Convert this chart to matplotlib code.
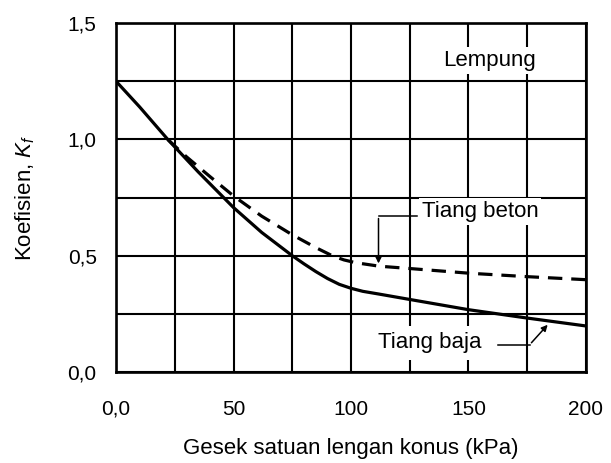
import matplotlib.pyplot as plt
import numpy as np

plt.rcParams['font.family'] = ['Liberation Sans', 'DejaVu Sans']
plt.rcParams['mathtext.fontset'] = 'custom'
plt.rcParams['mathtext.rm'] = 'Liberation Sans'
plt.rcParams['mathtext.it'] = 'Liberation Sans:italic'

# data
x_baja = [0, 10, 22, 35, 50, 62, 75, 80, 85, 90, 95, 100, 105, 112, 125, 150, 175, 200]
y_baja = [1.25, 1.14, 1.0, 0.86, 0.707, 0.60, 0.50, 0.465, 0.432, 0.402, 0.377, 0.36, 0.347, 0.335, 0.312, 0.268, 0.232, 0.198]

x_beton = [22, 30, 40, 50, 62, 75, 85, 92, 97, 102, 112, 125, 150, 175, 200]
y_beton = [1.0, 0.925, 0.84, 0.757, 0.67, 0.59, 0.535, 0.50, 0.482, 0.47, 0.455, 0.445, 0.425, 0.41, 0.397]

xticks = [0, 50, 100, 150, 200]
xticklabels = ['0,0', '50', '100', '150', '200']
yticks = [0, 0.5, 1.0, 1.5]
yticklabels = ['0,0', '0,5', '1,0', '1,5']

fig = plt.figure(figsize=(6.11, 4.63), dpi=100)
ax = fig.add_axes([0.19, 0.1965, 0.769, 0.7535])

ax.set_xlim(0, 200)
ax.set_ylim(0, 1.5)
ax.set_xticks(xticks)
ax.set_xticklabels(xticklabels)
ax.set_xticks(np.arange(0, 201, 25), minor=True)
ax.set_yticks(yticks)
ax.set_yticklabels(yticklabels)
ax.set_yticks(np.arange(0, 1.51, 0.25), minor=True)
ax.tick_params(which='both', length=0, labelsize=15)
ax.tick_params(axis='x', pad=20)
ax.tick_params(axis='y', pad=14)
ax.grid(which='both', color='black', linewidth=1.5)
ax.set_axisbelow(True)
for s in ax.spines.values():
    s.set_linewidth(1.9)

ax.plot(x_baja, y_baja, color='black', linewidth=2.3, solid_capstyle='butt')
ax.plot(x_beton, y_beton, color='black', linewidth=2.3, linestyle=(0, (4.5, 2.8)))

ax.text(159, 1.34, 'Lempung', fontsize=16, ha='center', va='center',
        bbox=dict(facecolor='white', edgecolor='none', pad=2))

ax.text(155, 0.69, 'Tiang beton', fontsize=16, ha='center', va='center',
        bbox=dict(facecolor='white', edgecolor='none', pad=2))
ax.plot([128, 111.7], [0.672, 0.672], color='black', linewidth=1.1)
ax.annotate('', xy=(111.7, 0.455), xytext=(111.7, 0.672),
            arrowprops=dict(arrowstyle='-|>', color='black', lw=1.1, mutation_scale=9))

ax.text(133.5, 0.125, 'Tiang baja', fontsize=16, ha='center', va='center',
        bbox=dict(facecolor='white', edgecolor='none', pad=5))
ax.plot([162.6, 176], [0.117, 0.117], color='black', linewidth=1.1)
ax.annotate('', xy=(184.5, 0.212), xytext=(176, 0.117),
            arrowprops=dict(arrowstyle='-|>', color='black', lw=1.1, mutation_scale=9))

ax.set_xlabel('Gesek satuan lengan konus (kPa)', fontsize=16, labelpad=14)
ax.set_ylabel(r'Koefisien, $K_f$', fontsize=16, labelpad=22)

fig.savefig('out.png', dpi=100)
